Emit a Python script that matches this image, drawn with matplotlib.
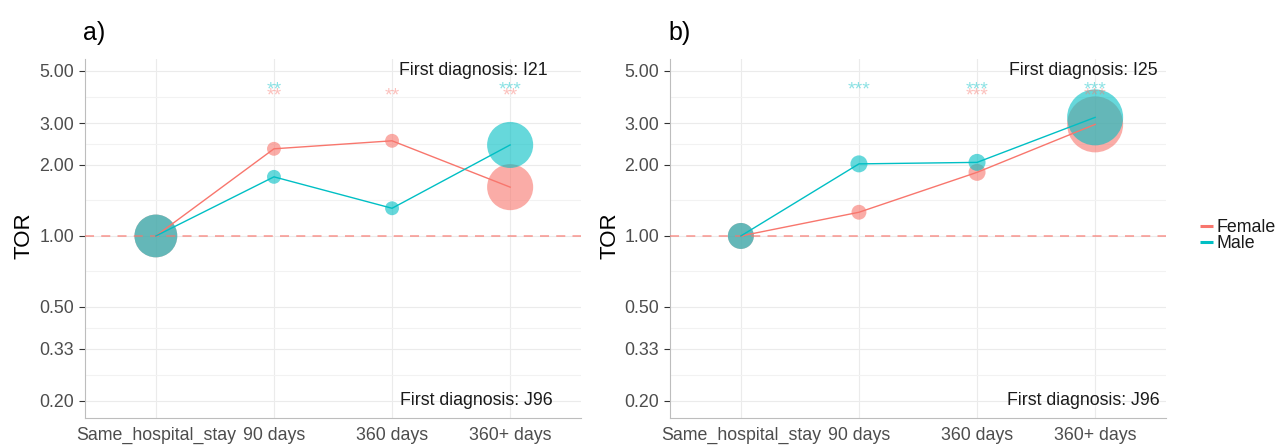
import matplotlib
matplotlib.use('Agg')
import matplotlib.pyplot as plt
import matplotlib.transforms as mtransforms
from matplotlib.lines import Line2D
from matplotlib.ticker import FixedLocator, NullFormatter
import numpy as np

plt.rcParams['font.family'] = ['Liberation Sans', 'DejaVu Sans']

# ---------------- data ----------------
categories = ['Same_hospital_stay', '90 days', '360 days', '360+ days']
ytick_values = [0.2, 1 / 3, 0.5, 1, 2, 3, 5]
ytick_labels = ['0.20', '0.33', '0.50', '1.00', '2.00', '3.00', '5.00']
sexes = ['Female', 'Male']

# panel a) first diagnosis I21
a_female_tor = [1.0, 2.34, 2.53, 1.61]
a_male_tor = [1.0, 1.78, 1.31, 2.43]
a_female_n = [1900, 200, 200, 2200]
a_male_n = [1900, 200, 200, 2200]
a_female_sig = ['', '**', '**', '**']
a_male_sig = ['', '**', '', '***']

# panel b) first diagnosis I25
b_female_tor = [1.0, 1.26, 1.86, 2.97]
b_male_tor = [1.0, 2.02, 2.05, 3.18]
b_female_n = [700, 230, 300, 3250]
b_male_n = [700, 300, 300, 3250]
b_female_sig = ['', '', '***', '***']
b_male_sig = ['', '***', '***', '***']

panels = [
    dict(tag='a)', top='First diagnosis: I21', bottom='First diagnosis: J96',
         tor=[a_female_tor, a_male_tor], n=[a_female_n, a_male_n],
         sig=[a_female_sig, a_male_sig], top_x=0.933, bottom_x=0.942),
    dict(tag='b)', top='First diagnosis: I25', bottom='First diagnosis: J96',
         tor=[b_female_tor, b_male_tor], n=[b_female_n, b_male_n],
         sig=[b_female_sig, b_male_sig], top_x=0.984, bottom_x=0.988),
]

# ---------------- style ----------------
W, H = 1278, 446
colors = {'Female': '#F8766D', 'Male': '#00BFC4'}
fs = 12.8
size_scale = 0.5

fig = plt.figure(figsize=(W / 100, H / 100), dpi=100)

axes_px = [(85, 59, 581, 418), (670, 59, 1166, 418)]

x = np.arange(1, len(categories) + 1)
minors = [np.sqrt(ytick_values[i] * ytick_values[i + 1]) for i in range(len(ytick_values) - 1)]

for p, (l, t, r, b) in zip(panels, axes_px):
    ax = fig.add_axes([l / W, 1 - b / H, (r - l) / W, (b - t) / H])
    ax.set_yscale('log')
    ax.set_xlim(0.4, 4.6)
    ax.set_ylim(0.1693, 5.62)
    ax.set_xticks(x, categories)
    ax.set_yticks(ytick_values, ytick_labels)
    ax.yaxis.set_minor_locator(FixedLocator(minors))
    ax.yaxis.set_minor_formatter(NullFormatter())
    ax.grid(True, which='major', color='#ebebeb', lw=0.8, zorder=0)
    ax.grid(True, which='minor', axis='y', color='#f2f2f2', lw=0.8, zorder=0)
    ax.set_axisbelow(True)
    for s in ['top', 'right']:
        ax.spines[s].set_visible(False)
    for s in ['left', 'bottom']:
        ax.spines[s].set_color('#bdbdbd')
        ax.spines[s].set_linewidth(0.8)
    ax.tick_params(axis='y', which='major', length=4, width=0.8, color='#333333',
                   labelcolor='#4d4d4d', labelsize=fs, pad=4)
    ax.tick_params(axis='y', which='minor', length=0)
    ax.tick_params(axis='x', length=0, labelcolor='#4d4d4d', labelsize=fs, pad=6.3)

    # bubbles
    for sex, tor, n in zip(sexes, p['tor'], p['n']):
        ax.scatter(x, tor, s=np.array(n) * size_scale, color=colors[sex],
                   alpha=0.6, linewidths=0, zorder=2)
    ax.axhline(1, color='#F8766D', alpha=0.65, lw=1.3, ls=(0, (5, 4)), zorder=3)
    for sex, tor in zip(sexes, p['tor']):
        ax.plot(x, tor, color=colors[sex], lw=1.0, zorder=4)

    # significance stars
    star_fs = 14
    for sex, sigs, yv in zip(sexes, p['sig'], [4.18, 4.42]):
        for xi, sg in zip(x, sigs):
            if sg:
                ax.annotate(sg, (xi, yv), xytext=(0, -0.575 * star_fs),
                            textcoords='offset points', ha='center', va='baseline',
                            color=colors[sex], alpha=0.45, fontsize=star_fs, zorder=5)

    trans = mtransforms.blended_transform_factory(ax.transAxes, ax.transData)
    ax.text(p['top_x'], 5.0, p['top'], transform=trans, ha='right', va='center',
            fontsize=fs, color='#1a1a1a', zorder=6)
    ax.text(p['bottom_x'], 0.2, p['bottom'], transform=trans, ha='right', va='center',
            fontsize=fs, color='#1a1a1a', zorder=6)

    ax.set_ylabel('TOR', fontsize=16, color='black')
    ax.yaxis.set_label_coords(-50 / (r - l), 0.507)

    fig.text((l - 2) / W, 1 - 40 / H, p['tag'], fontsize=18, ha='left', va='baseline',
             color='black')

# legend
for sex, yk in zip(sexes, [226, 242.5]):
    fig.add_artist(Line2D([1200 / W, 1213 / W], [1 - yk / H, 1 - yk / H],
                          transform=fig.transFigure, color=colors[sex], lw=2.2,
                          solid_capstyle='butt'))
    fig.text(1216 / W, 1 - (yk + 1) / H, sex, fontsize=fs, ha='left', va='center',
             color='#1a1a1a')

fig.savefig('out.png', dpi=100)
